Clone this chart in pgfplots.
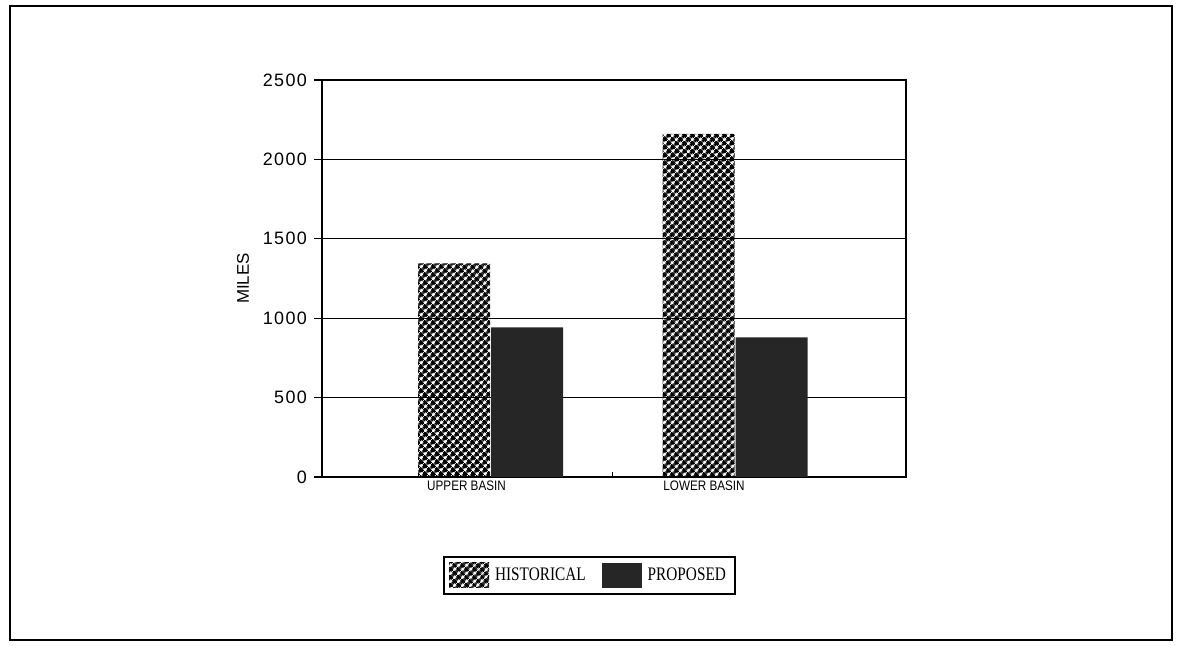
\documentclass[border=0pt]{standalone}
\usepackage{pgfplots}
\pgfplotsset{compat=1.18}
\usepackage{fontspec}
\setmainfont{Liberation Sans}
\newfontfamily\tickfont[LetterSpace=8]{Liberation Sans}
\newfontfamily\catfont[FakeStretch=0.85]{Liberation Sans}
\newfontfamily\legfont[FakeStretch=0.8]{Liberation Serif}
\usetikzlibrary{patterns.meta}

% diagonal cross-hatch used for the historical bars
\tikzdeclarepattern{
  name=basinhatch,
  type=uncolored,
  bounding box={(0,0) and (3bp,3bp)},
  tile size={(3bp,3bp)},
  tile transformation={rotate=45},
  code={
    \draw[line width=1.6bp] (0,1.5bp) -- (3bp,1.5bp);
    \draw[line width=1.6bp] (1.5bp,0) -- (1.5bp,3bp);
  }
}
\definecolor{propfill}{gray}{0.15}

\begin{document}
\begin{tikzpicture}
  % page extent and outer frame
  \path (0bp,0bp) rectangle (588.5bp,323bp);
  \draw[line width=1bp] (5bp,3bp) rectangle (586bp,320bp);

  \begin{axis}[
    at={(161bp,84.5bp)}, anchor=south west,
    scale only axis, width=292bp, height=198.5bp,
    xmin=-0.689, xmax=1.699,
    ymin=0, ymax=2500,
    ytick={0,500,...,2500},
    ymajorgrids, grid style={black, line width=0.6bp},
    axis line style={line width=0.6bp},
    tick align=outside, major tick length=4bp,
    tick style={black, line width=0.6bp},
    xtick pos=lower, ytick pos=left,
    xtick={0.5}, xticklabels={},
    x tick style={/pgfplots/tick align=inside, /pgfplots/major tick length=2.5bp},
    extra x ticks={-0.098,0.873},
    extra x tick labels={UPPER BASIN,LOWER BASIN},
    extra x tick style={major tick length=0pt, tick style={draw=none},
      xticklabel style={font=\catfont\fontsize{6.9}{7}\selectfont, yshift=1.5bp}},
    yticklabel style={font=\tickfont\fontsize{9}{10}\selectfont},
    /pgf/number format/assume math mode=true,
    scaled y ticks=false,
    yticklabel={\pgfmathprintnumber[1000 sep={}]{\tick}},
    ylabel={MILES},
    ylabel style={font=\fontsize{8.5}{10}\selectfont, at={(axis description cs:-0.135,0.5)}, anchor=center},
    ybar, bar width=36bp,
    legend style={at={(0.458,-0.248)}, anchor=center, legend columns=2,
      draw=black, line width=0.6bp, inner xsep=2.5bp, inner ysep=3bp,
      font=\legfont\fontsize{9.6}{11}\selectfont,
      /tikz/every odd column/.append style={column sep=1bp},
      /tikz/every even column/.append style={column sep=6bp}},
    legend image code/.code={\path[#1, draw=none] (0bp,-6.25bp) rectangle (20bp,6.25bp);},
  ]
    \addplot[draw=none, pattern=basinhatch, pattern color=black, bar shift=-18.25bp]
      coordinates {(0,1345) (1,2161)};
    \addplot[draw=none, fill=propfill, bar shift=18.25bp]
      coordinates {(0,942) (1,879)};
    \legend{HISTORICAL,PROPOSED\hspace{12bp}}
  \end{axis}
\end{tikzpicture}
\end{document}
